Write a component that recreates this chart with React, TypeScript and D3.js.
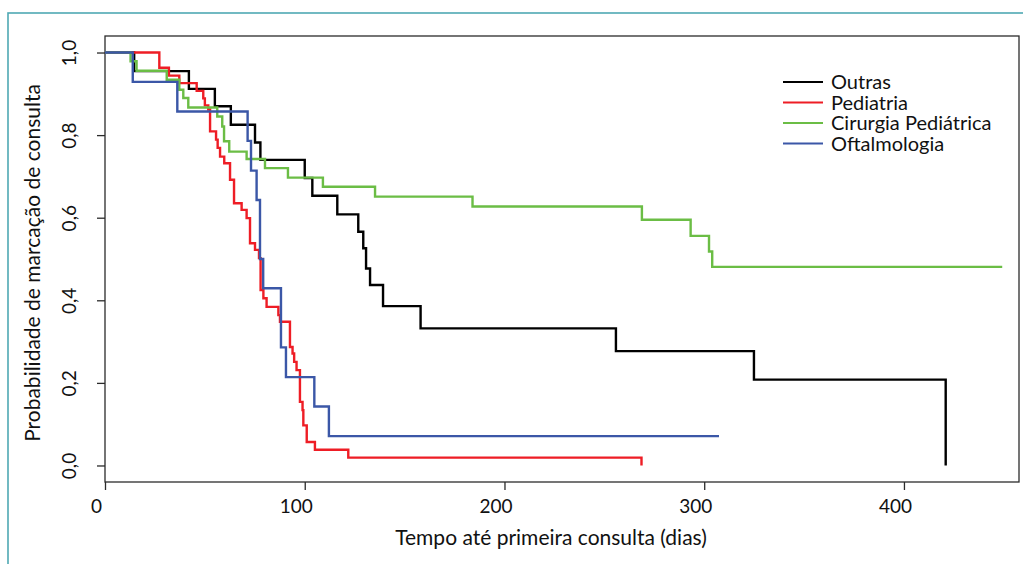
import * as d3 from 'd3';
import React, { useEffect, useRef } from 'react';

// Kaplan-Meier curves (time in days, survival probability)
const outrasTimes = [0, 14.6, 42, 55, 63, 75.1, 77.8, 100, 103.8, 116.3, 126.8, 129.3, 130.7, 132.7, 139.2, 158, 255.8, 324.9, 420.9];
const outrasSurv = [1, 0.955, 0.912, 0.87, 0.825, 0.782, 0.74, 0.696, 0.653, 0.608, 0.566, 0.526, 0.477, 0.437, 0.386, 0.332, 0.277, 0.208, 0];

const pediatriaTimes = [0, 27.2, 32, 37.2, 45.9, 49.2, 50, 51.7, 52.6, 55.6, 56.4, 57.6, 59.7, 62.6, 64.6, 68.4, 70.9, 72.6, 75.1, 77.1, 77.9, 79.3, 80.9, 86.8, 87.6, 92.6, 93.9, 94.7, 95.9, 97.6, 98.9, 99.3, 101, 105.1, 121.8, 268.6];
const pediatriaSurv = [1, 0.963, 0.944, 0.926, 0.907, 0.889, 0.872, 0.862, 0.809, 0.789, 0.769, 0.748, 0.732, 0.692, 0.635, 0.619, 0.599, 0.538, 0.522, 0.502, 0.425, 0.405, 0.384, 0.364, 0.348, 0.287, 0.271, 0.251, 0.231, 0.154, 0.134, 0.097, 0.057, 0.038, 0.019, 0];

const cirurgiaTimes = [0, 12.8, 15.8, 30.9, 37.2, 39.2, 41.7, 56.2, 58.7, 59.6, 62.2, 70.9, 80.1, 91.6, 109.1, 135.2, 184, 268.8, 293.2, 302.4, 304, 449.2];
const cirurgiaSurv = [1, 0.979, 0.956, 0.934, 0.91, 0.89, 0.867, 0.845, 0.821, 0.785, 0.76, 0.742, 0.72, 0.697, 0.675, 0.651, 0.627, 0.595, 0.556, 0.518, 0.481, 0.481];

const oftalmoTimes = [0, 13.9, 36.2, 71.4, 73.1, 75.9, 77.6, 79.2, 88.1, 90.6, 104.8, 112.1, 307.4];
const oftalmoSurv = [1, 0.929, 0.857, 0.786, 0.714, 0.643, 0.5, 0.429, 0.286, 0.214, 0.143, 0.071, 0.071];

const groupNames = ['Outras', 'Pediatria', 'Cirurgia Pediátrica', 'Oftalmologia'];
const groupColors = ['#000000', '#ee1d25', '#6bbd45', '#3b57a7'];

const xTicks = [0, 100, 200, 300, 400];
const yTicks = [0, 0.2, 0.4, 0.6, 0.8, 1.0];

const FONT = 'Lato, "Open Sans", sans-serif';

function App() {
  const svgRef = useRef<SVGSVGElement>(null);

  useEffect(() => {
    const width = 1023;
    const height = 564;
    const left = 105, right = 1019, top = 36, bottom = 482;

    const svg = d3.select(svgRef.current)
      .attr('width', width)
      .attr('height', height);
    svg.selectAll('*').remove();

    // outer teal frame
    svg.append('rect')
      .attr('x', 8).attr('y', 13)
      .attr('width', 1100).attr('height', 1000)
      .attr('fill', 'none')
      .attr('stroke', '#4fa9b3')
      .attr('stroke-width', 1.6);

    const x = d3.scaleLinear().domain([0, 457.6]).range([left, right]);
    const y = d3.scaleLinear().domain([-0.04, 1.04]).range([bottom, top]);

    // plot box
    svg.append('rect')
      .attr('x', left).attr('y', top)
      .attr('width', right - left).attr('height', bottom - top)
      .attr('fill', 'none')
      .attr('stroke', '#2b2b2b')
      .attr('stroke-width', 1.3);

    // x axis
    const xAxis = d3.axisBottom(x).tickValues(xTicks).tickSize(8).tickSizeOuter(0);
    const gx = svg.append('g')
      .attr('transform', `translate(0,${bottom})`)
      .call(xAxis);
    gx.select('.domain').remove();
    gx.selectAll('line').attr('stroke', '#2b2b2b').attr('stroke-width', 1.3);
    gx.selectAll('text')
      .attr('y', 31)
      .attr('dy', 0)
      .attr('x', -9)
      .attr('fill', '#111')
      .style('font-family', FONT)
      .style('font-size', '19px');

    // y axis
    const yAxis = d3.axisLeft(y).tickValues(yTicks).tickSize(8)
      .tickFormat(d => d3.format('.1f')(d as number).replace('.', ','));
    const gy = svg.append('g')
      .attr('transform', `translate(${left},0)`)
      .call(yAxis);
    gy.select('.domain').remove();
    gy.selectAll('line').attr('stroke', '#2b2b2b').attr('stroke-width', 1.3);
    gy.selectAll('text')
      .attr('x', 0)
      .attr('dy', 0)
      .attr('transform', 'translate(-29,0) rotate(-90)')
      .attr('text-anchor', 'middle')
      .attr('fill', '#111')
      .style('font-family', FONT)
      .style('font-size', '19px');

    // axis titles
    svg.append('text')
      .attr('x', 551).attr('y', 545)
      .attr('text-anchor', 'middle')
      .attr('fill', '#111')
      .style('font-family', FONT)
      .style('font-size', '21px')
      .text('Tempo até primeira consulta (dias)');

    svg.append('text')
      .attr('transform', `translate(40,${(top + bottom) / 2 + 4}) rotate(-90)`)
      .attr('text-anchor', 'middle')
      .attr('fill', '#111')
      .style('font-family', FONT)
      .style('font-size', '21px')
      .text('Probabilidade de marcação de consulta');

    // curves
    const series = [
      { times: outrasTimes, surv: outrasSurv },
      { times: pediatriaTimes, surv: pediatriaSurv },
      { times: cirurgiaTimes, surv: cirurgiaSurv },
      { times: oftalmoTimes, surv: oftalmoSurv },
    ];

    const line = d3.line<[number, number]>()
      .x(d => x(d[0]))
      .y(d => y(d[1]))
      .curve(d3.curveStepAfter);

    series.forEach((s, i) => {
      const pts: [number, number][] = s.times.map((t, j) => [t, s.surv[j]]);
      svg.append('path')
        .datum(pts)
        .attr('fill', 'none')
        .attr('stroke', groupColors[i])
        .attr('stroke-width', 2.4)
        .attr('d', line);
    });

    // legend
    const legend = svg.append('g');
    groupNames.forEach((name, i) => {
      const ly = 82 + i * 20.5;
      legend.append('line')
        .attr('x1', 783).attr('x2', 823)
        .attr('y1', ly).attr('y2', ly)
        .attr('stroke', groupColors[i])
        .attr('stroke-width', 2.2);
      legend.append('text')
        .attr('x', 831).attr('y', ly + 7)
        .attr('fill', '#111')
        .style('font-family', FONT)
        .style('font-size', '20px')
        .text(name);
    });
  }, []);

  return (
    <svg ref={svgRef} style={{ position: 'absolute', left: 0, top: 0 }} />
  );
}

export default App;
